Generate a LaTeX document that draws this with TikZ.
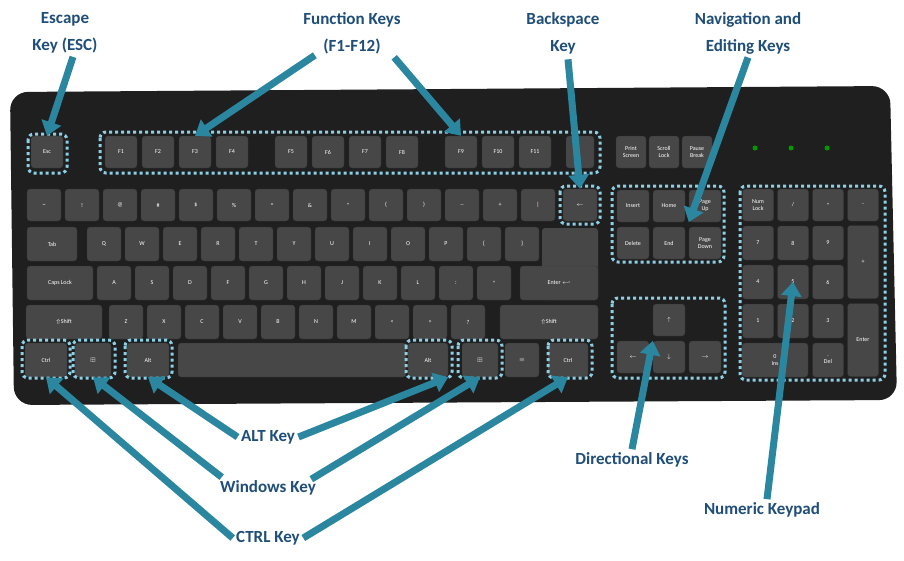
\documentclass[tikz,border=0pt]{standalone}
\usepackage{amssymb}
\usepackage{fontspec}
\setmainfont{Carlito}
\usetikzlibrary{arrows.meta}
\definecolor{teal1}{HTML}{2B86A0}
\definecolor{navy1}{HTML}{1F4E79}
\definecolor{dots1}{HTML}{8CD0E6}
\tikzset{
  key/.style={draw=black!80, fill=black!72, rounded corners=3pt, inner sep=0pt,
    text=white, font=\fontsize{6}{7}\selectfont, align=center},
  group/.style={draw=dots1, line width=3pt, dash pattern=on 3pt off 3pt, rounded corners=6pt},
  callout/.style={teal1, line width=7pt, -{Triangle[length=14pt,width=20pt]}},
  lbl/.style={text=navy1, font=\bfseries\fontsize{17}{27}\selectfont, align=center}
}
% key: name, centre x, centre y, width, height, text
\newcommand{\kbkey}[6]{\node[key, minimum width=#4pt, minimum height=#5pt] (#1) at (#2,#3) {#6};}
\begin{document}
\begin{tikzpicture}[x=1pt,y=-1pt]
  \useasboundingbox (0,0) rectangle (904,560);
  \fill[white] (0,0) rectangle (904,560);

  %%%%%%%%% Tastiera %%%%%%%%%
  \fill[black!88, rounded corners=18pt] (10,92) -- (890,86) -- (897,400) -- (14,405) -- cycle;

  %%%%%%%%% Riga funzioni %%%%%%%%%
  \kbkey{esc}{47}{152}{32}{32}{Esc}
  \foreach \t [count=\i] in {F1,F2,F3,F4}
    {\kbkey{f\i}{84+\i*37}{152}{32}{32}{\t}}
  \foreach \t [count=\i] in {F5,F6,F7,F8}
    {\kbkey{g\i}{254+\i*37}{152}{32}{32}{\t}}
  \foreach \t [count=\i] in {F9,F10,F11}
    {\kbkey{h\i}{424+\i*37}{152}{32}{32}{\t}}
  \kbkey{f12}{580}{152}{28}{32}{}
  \foreach \t [count=\i] in {Print\\Screen,Scroll\\Lock,Pause\\Break}
    {\kbkey{p\i}{598+\i*33}{152}{30}{32}{\t}}

  %%%%%%%%% Righe principali %%%%%%%%%
  \foreach \t [count=\i] in {{\textasciitilde},{!},{@},{\#},{\$},{\%},{\textasciicircum},{\&},{*},{(},{)},{\_},{+},{|}}
    {\kbkey{n\i}{6+\i*38}{205}{34}{32}{\t}}
  \kbkey{bksp}{580}{205}{34}{32}{$\leftarrow$}
  \kbkey{tab}{52}{244}{50}{34}{Tab}
  \foreach \t [count=\i] in {Q,W,E,R,T,Y,U,I,O,P,{\{},{\}}}
    {\kbkey{q\i}{66+\i*38}{244}{34}{34}{\t}}
  \kbkey{caps}{60}{283}{66}{34}{Caps Lock}
  \foreach \t [count=\i] in {A,S,D,F,G,H,J,K,L,{:},{"}}
    {\kbkey{a\i}{76+\i*38}{283}{34}{34}{\t}}
  \fill[black!72, rounded corners=3pt] (542,228) rectangle (598,300);
  \kbkey{enter}{559}{283}{78}{34}{Enter $\hookleftarrow$}
  \kbkey{lsh}{64}{322}{76}{34}{$\Uparrow$Shift}
  \foreach \t [count=\i] in {Z,X,C,V,B,N,M,{<},{>},{?}}
    {\kbkey{z\i}{88+\i*38}{322}{34}{34}{\t}}
  \kbkey{rsh}{549}{322}{98}{34}{$\Uparrow$Shift}

  %%%%%%%%% Riga inferiore %%%%%%%%%
  \kbkey{lctrl}{46}{360}{42}{34}{Ctrl}
  \kbkey{lwin}{93}{360}{36}{34}{$\boxplus$}
  \kbkey{lalt}{148}{360}{42}{34}{Alt}
  \kbkey{space}{292}{360}{228}{34}{}
  \kbkey{ralt}{428}{360}{40}{34}{Alt}
  \kbkey{rwin}{480}{360}{36}{34}{$\boxplus$}
  \kbkey{menu}{522}{360}{34}{34}{$\equiv$}
  \kbkey{rctrl}{568}{360}{40}{34}{Ctrl}

  %%%%%%%%% Navigazione %%%%%%%%%
  \foreach \t [count=\i] in {Insert,Home,Page\\Up}
    {\kbkey{i\i}{597+\i*36}{206}{32}{32}{\t}}
  \foreach \t [count=\i] in {Delete,End,Page\\Down}
    {\kbkey{d\i}{597+\i*36}{243}{32}{32}{\t}}
  \kbkey{up}{669}{320}{32}{32}{$\uparrow$}
  \kbkey{left}{633}{357}{32}{32}{$\leftarrow$}
  \kbkey{down}{669}{357}{32}{32}{$\downarrow$}
  \kbkey{right}{705}{357}{32}{32}{$\rightarrow$}

  %%%%%%%%% LED %%%%%%%%%
  \foreach \x in {755,791,827}
    \fill[green!60!black] (\x,148) circle (2.5pt);

  %%%%%%%%% Tastierino %%%%%%%%%
  \foreach \t [count=\i] in {Num\\Lock,/,*,-}
    {\kbkey{k\i}{723+\i*35}{205}{31}{32}{\t}}
  \foreach \t [count=\i] in {7,8,9}
    {\kbkey{s\i}{723+\i*35}{243}{31}{34}{\t}}
  \foreach \t [count=\i] in {4,5,6}
    {\kbkey{v\i}{723+\i*35}{282}{31}{34}{\t}}
  \foreach \t [count=\i] in {1,2,3}
    {\kbkey{o\i}{723+\i*35}{321}{31}{34}{\t}}
  \kbkey{plus}{863}{262}{31}{73}{+}
  \kbkey{kent}{863}{340}{31}{73}{Enter}
  \kbkey{zero}{775}{360}{66}{34}{0\\Ins}
  \kbkey{del}{828}{360}{31}{34}{.\\Del}

  %%%%%%%%% Contorni %%%%%%%%%
  \draw[group] (28,134) rectangle (67,173);
  \draw[group] (100,132) rectangle (600,173);
  \draw[group] (560,186) rectangle (600,224);
  \draw[group] (612,186) rectangle (724,262);
  \draw[group] (612,298) rectangle (725,378);
  \draw[group] (740,186) rectangle (885,380);
  \draw[group] (22,340) rectangle (70,378);
  \draw[group] (73,340) rectangle (115,378);
  \draw[group] (125,340) rectangle (172,378);
  \draw[group] (406,340) rectangle (452,378);
  \draw[group] (458,340) rectangle (502,378);
  \draw[group] (548,340) rectangle (592,378);

  %%%%%%%%% Etichette %%%%%%%%%
  \node[lbl] (lesc) at (65,33) {Escape\\Key (ESC)};
  \node[lbl] (lfun) at (352,33) {Function Keys\\(F1-F12)};
  \node[lbl] (lbks) at (563,33) {Backspace\\Key};
  \node[lbl] (lnav) at (748,33) {Navigation and\\Editing Keys};
  \node[lbl] (lalt2) at (268,437) {ALT Key};
  \node[lbl] (lwin2) at (268,488) {Windows Key};
  \node[lbl] (lctrl2) at (268,538) {CTRL Key};
  \node[lbl] (ldir) at (632,460) {Directional Keys};
  \node[lbl] (lnum) at (762,510) {Numeric Keypad};

  %%%%%%%%% Frecce %%%%%%%%%
  \draw[callout] (lesc.south) ++(8,0) -- (esc.north);
  \draw[callout] (lfun.south west) ++(15,-2) -- (f3.north);
  \draw[callout] (lfun.south east) ++(-10,0) -- (h1.north);
  \draw[callout] (lbks.south) ++(5,2) -- (bksp.north);
  \draw[callout] (lnav.south) -- (i3.south west);
  \draw[callout] (lalt2.west) -- (lalt.south);
  \draw[callout] (lalt2.east) -- (ralt.south east);
  \draw[callout] (lwin2.north west) ++(5,0) -- (lwin.south);
  \draw[callout] (lwin2.north east) ++(-8,2) -- (rwin.south);
  \draw[callout] (lctrl2.west) -- (lctrl.south);
  \draw[callout] (lctrl2.east) -- (rctrl.south);
  \draw[callout] (ldir.north) -- (down.north west);
  \draw[callout] (lnum.north) ++(5,0) -- (v2.center);
\end{tikzpicture}
\end{document}
